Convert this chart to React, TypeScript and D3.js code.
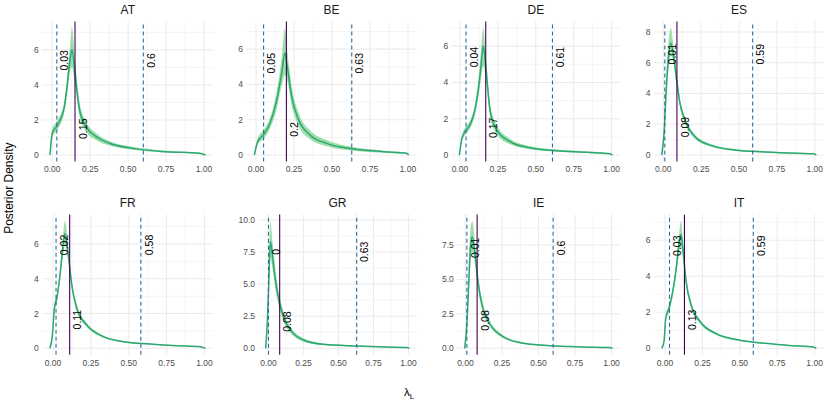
import React, { useEffect, useRef } from 'react';
import * as d3 from 'd3';

const countries = ['AT', 'BE', 'DE', 'ES', 'FR', 'GR', 'IE', 'IT'];

// posterior density of lambda_L: grid, median and 95% band
const AT_x = [-0.015, 0.0, 0.035, 0.08, 0.1, 0.117, 0.13, 0.152, 0.18, 0.223, 0.29, 0.377, 0.53, 0.75, 0.97, 1.01];
const AT_med = [0, 1.24, 1.71, 2.76, 4.1, 5.43, 6.0, 4.47, 2.57, 1.62, 1.05, 0.67, 0.38, 0.19, 0.1, 0];
const AT_hi = [0, 1.5, 2.0, 3.1, 4.6, 6.2, 7.25, 5.2, 3.0, 1.9, 1.25, 0.8, 0.47, 0.25, 0.13, 0];
const AT_lo = [0, 1.0, 1.45, 2.45, 3.6, 4.8, 5.0, 3.8, 2.2, 1.35, 0.85, 0.55, 0.3, 0.14, 0.07, 0];

const BE_x = [-0.011, 0.011, 0.048, 0.092, 0.136, 0.169, 0.19, 0.206, 0.235, 0.28, 0.355, 0.465, 0.64, 0.84, 0.99, 1.005];
const BE_med = [0, 0.76, 1.14, 1.8, 3.1, 4.64, 5.78, 5.0, 3.3, 2.0, 1.14, 0.66, 0.34, 0.19, 0.1, 0];
const BE_hi = [0, 0.95, 1.4, 2.1, 3.6, 5.5, 7.2, 5.9, 3.9, 2.4, 1.4, 0.85, 0.45, 0.25, 0.13, 0];
const BE_lo = [0, 0.6, 0.9, 1.5, 2.6, 3.9, 4.5, 4.2, 2.8, 1.65, 0.9, 0.5, 0.25, 0.13, 0.07, 0];

const DE_x = [-0.004, 0.011, 0.033, 0.066, 0.099, 0.121, 0.139, 0.154, 0.172, 0.198, 0.242, 0.33, 0.46, 0.64, 0.84, 0.99, 1.005];
const DE_med = [0, 0.83, 1.29, 1.66, 2.49, 3.6, 4.9, 6.0, 4.7, 2.49, 1.38, 0.74, 0.4, 0.24, 0.15, 0.07, 0];
const DE_hi = [0, 1.0, 1.5, 1.9, 2.8, 4.1, 5.8, 7.0, 5.4, 2.9, 1.65, 0.9, 0.5, 0.3, 0.19, 0.1, 0];
const DE_lo = [0, 0.7, 1.1, 1.45, 2.2, 3.2, 4.2, 4.9, 4.1, 2.15, 1.15, 0.6, 0.32, 0.18, 0.11, 0.05, 0];

const ES_x = [-0.011, 0.005, 0.018, 0.033, 0.049, 0.066, 0.088, 0.11, 0.143, 0.209, 0.319, 0.473, 0.67, 0.89, 0.993, 1.01];
const ES_med = [0, 1.41, 4.0, 6.2, 7.28, 6.6, 4.9, 3.37, 2.28, 1.19, 0.61, 0.33, 0.2, 0.11, 0.08, 0];
const ES_hi = [0, 1.7, 4.6, 7.2, 8.26, 7.2, 5.3, 3.65, 2.5, 1.33, 0.7, 0.39, 0.24, 0.14, 0.1, 0];
const ES_lo = [0, 1.15, 3.4, 5.4, 6.5, 6.0, 4.5, 3.1, 2.05, 1.06, 0.53, 0.28, 0.16, 0.08, 0.06, 0];

const FR_x = [-0.02, -0.004, 0.009, 0.025, 0.046, 0.062, 0.079, 0.101, 0.124, 0.157, 0.223, 0.311, 0.466, 0.64, 0.82, 0.97, 1.007];
const FR_med = [0, 0.76, 2.3, 2.88, 4.2, 5.55, 6.6, 5.37, 3.64, 2.3, 1.34, 0.76, 0.38, 0.25, 0.15, 0.09, 0];
const FR_hi = [0, 0.9, 2.55, 3.1, 4.5, 6.0, 7.32, 5.75, 3.9, 2.5, 1.45, 0.83, 0.42, 0.28, 0.17, 0.1, 0];
const FR_lo = [0, 0.62, 2.05, 2.65, 3.9, 5.1, 5.9, 5.0, 3.4, 2.1, 1.23, 0.69, 0.34, 0.22, 0.13, 0.08, 0];

const GR_x = [-0.02, -0.008, 0.004, 0.013, 0.03, 0.051, 0.077, 0.111, 0.166, 0.249, 0.39, 0.63, 0.844, 0.987, 1.006];
const GR_med = [0, 2.08, 5.74, 8.35, 7.05, 5.22, 3.65, 2.35, 1.3, 0.65, 0.31, 0.18, 0.1, 0.07, 0];
const GR_hi = [0, 2.5, 6.9, 9.92, 8.2, 6.0, 4.2, 2.75, 1.55, 0.8, 0.38, 0.22, 0.13, 0.09, 0];
const GR_lo = [0, 1.7, 4.7, 7.0, 6.1, 4.5, 3.15, 2.0, 1.1, 0.53, 0.25, 0.14, 0.07, 0.05, 0];

const IE_x = [-0.005, 0.011, 0.023, 0.034, 0.046, 0.064, 0.086, 0.114, 0.159, 0.239, 0.375, 0.58, 0.806, 0.988, 1.007];
const IE_med = [0, 1.93, 4.83, 7.26, 8.1, 7.0, 4.83, 3.14, 1.93, 0.97, 0.41, 0.19, 0.1, 0.06, 0];
const IE_hi = [0, 2.3, 5.8, 8.6, 9.24, 7.8, 5.4, 3.5, 2.15, 1.1, 0.48, 0.23, 0.12, 0.08, 0];
const IE_lo = [0, 1.6, 4.0, 6.1, 7.0, 6.2, 4.3, 2.8, 1.72, 0.85, 0.35, 0.16, 0.08, 0.04, 0];

const IT_x = [-0.022, -0.007, 0.005, 0.027, 0.056, 0.078, 0.096, 0.107, 0.123, 0.141, 0.174, 0.234, 0.335, 0.491, 0.67, 0.849, 0.993, 1.011];
const IT_med = [0, 0.37, 1.68, 2.23, 3.35, 4.65, 5.96, 6.33, 5.21, 3.72, 2.42, 1.49, 0.84, 0.46, 0.28, 0.15, 0.07, 0];
const IT_hi = [0, 0.45, 1.85, 2.45, 3.6, 5.0, 6.5, 7.07, 5.6, 4.0, 2.6, 1.6, 0.9, 0.5, 0.3, 0.17, 0.08, 0];
const IT_lo = [0, 0.3, 1.5, 2.0, 3.1, 4.3, 5.4, 5.6, 4.8, 3.45, 2.25, 1.38, 0.77, 0.42, 0.25, 0.13, 0.06, 0];

// interval bounds (dashed) and point estimate (solid)
const hpdLower = [0.03, 0.05, 0.04, 0.01, 0.02, 0, 0.01, 0.03];
const hpdUpper = [0.6, 0.63, 0.61, 0.59, 0.58, 0.63, 0.6, 0.59];
const pointEstimate = [0.15, 0.2, 0.17, 0.09, 0.11, 0.08, 0.08, 0.13];

const xTicks = [0, 0.25, 0.5, 0.75, 1];
const yTickSets = [
  [0, 2, 4, 6], [0, 2, 4, 6], [0, 2, 4, 6], [0, 2, 4, 6, 8],
  [0, 2, 4, 6], [0, 2.5, 5, 7.5, 10], [0, 2.5, 5, 7.5], [0, 2, 4, 6]
];
const yTickDecimals = [0, 0, 0, 0, 0, 1, 1, 0];

const curveX = [AT_x, BE_x, DE_x, ES_x, FR_x, GR_x, IE_x, IT_x];
const curveMed = [AT_med, BE_med, DE_med, ES_med, FR_med, GR_med, IE_med, IT_med];
const curveHi = [AT_hi, BE_hi, DE_hi, ES_hi, FR_hi, GR_hi, IE_hi, IT_hi];
const curveLo = [AT_lo, BE_lo, DE_lo, ES_lo, FR_lo, GR_lo, IE_lo, IT_lo];

// panel layout (free y axes make the left edges differ)
const W = 830;
const H = 403;
const panelLeft = [42.2, 246.6, 451.7, 653.9, 42.2, 258.5, 457.3, 654];
const panelRight = [213.3, 416.5, 620, 824, 213.3, 416.5, 620, 824];
const rowTop = [21.6, 214.6];
const rowBottom = [161.4, 354.7];

const FONT = "'Liberation Sans', Arial, Helvetica, sans-serif";
const LINE_GREEN = '#2aa872';
const BAND_GREEN = '#52c468';
const DASH_BLUE = '#2b6c9c';
const EST_PURPLE = '#440154';

const App = () => {
  const svgRef = useRef<SVGSVGElement>(null);

  useEffect(() => {
    const svg = d3.select(svgRef.current);
    svg.selectAll('*').remove();

    countries.forEach((name, i) => {
      const row = i < 4 ? 0 : 1;
      const xs = curveX[i];
      const med = curveMed[i];
      const hi = curveHi[i];
      const lo = curveLo[i];
      const pts = xs.map((x, k) => ({ x, med: med[k], hi: hi[k], lo: lo[k] }));

      // ggplot-style 5% expansion
      const [xmin, xmax] = d3.extent(xs) as [number, number];
      const xpad = 0.05 * (xmax - xmin);
      const ymax = d3.max(hi) as number;
      const x = d3.scaleLinear()
        .domain([xmin - xpad, xmax + xpad])
        .range([panelLeft[i], panelRight[i]]);
      const y = d3.scaleLinear()
        .domain([-0.05 * ymax, ymax * 1.05])
        .range([rowBottom[row], rowTop[row]]);

      const g = svg.append('g').attr('class', 'panel');

      // grid: minor then major
      const yt = yTickSets[i];
      const ystep = yt[1] - yt[0];
      const yMinor = [yt[0] - ystep / 2, ...yt.map(v => v + ystep / 2)]
        .filter(v => v >= y.domain()[0] && v <= y.domain()[1]);
      const xMinor = [-0.125, ...xTicks.map(v => v + 0.125)]
        .filter(v => v >= x.domain()[0] && v <= x.domain()[1]);

      const [x0, x1] = x.range();
      const [y0, y1] = y.range();

      g.selectAll('.ymin').data(yMinor).enter().append('line')
        .attr('x1', x0).attr('x2', x1)
        .attr('y1', d => y(d)).attr('y2', d => y(d))
        .style('stroke', '#ebebeb').style('stroke-width', 0.55);
      g.selectAll('.xmin').data(xMinor).enter().append('line')
        .attr('y1', y0).attr('y2', y1)
        .attr('x1', d => x(d)).attr('x2', d => x(d))
        .style('stroke', '#ebebeb').style('stroke-width', 0.55);
      g.selectAll('.ymaj').data(yt).enter().append('line')
        .attr('x1', x0).attr('x2', x1)
        .attr('y1', d => y(d)).attr('y2', d => y(d))
        .style('stroke', '#ebebeb').style('stroke-width', 1.07);
      g.selectAll('.xmaj').data(xTicks).enter().append('line')
        .attr('y1', y0).attr('y2', y1)
        .attr('x1', d => x(d)).attr('x2', d => x(d))
        .style('stroke', '#ebebeb').style('stroke-width', 1.07);

      // band + median
      const area = d3.area<any>()
        .x(d => x(d.x))
        .y0(d => y(d.lo))
        .y1(d => y(d.hi))
        .curve(d3.curveMonotoneX);
      const line = d3.line<any>()
        .x(d => x(d.x))
        .y(d => y(d.med))
        .curve(d3.curveMonotoneX);

      g.append('path')
        .attr('d', area(pts))
        .style('fill', BAND_GREEN)
        .style('fill-opacity', 0.55)
        .style('stroke', 'none');
      g.append('path')
        .attr('d', line(pts))
        .style('fill', 'none')
        .style('stroke', LINE_GREEN)
        .style('stroke-width', 1.5);

      // vertical reference lines
      [hpdLower[i], hpdUpper[i]].forEach(v => {
        g.append('line')
          .attr('x1', x(v)).attr('x2', x(v))
          .attr('y1', y0).attr('y2', y1)
          .style('stroke', DASH_BLUE)
          .style('stroke-width', 1.1)
          .style('stroke-dasharray', '4,3');
      });
      g.append('line')
        .attr('x1', x(pointEstimate[i])).attr('x2', x(pointEstimate[i]))
        .attr('y1', y0).attr('y2', y1)
        .style('stroke', EST_PURPLE)
        .style('stroke-width', 1.1);

      // value labels, rotated
      const peak = d3.max(med) as number;
      const labels = [
        { v: hpdLower[i], at: 0.9 * peak },
        { v: hpdUpper[i], at: 0.9 * peak },
        { v: pointEstimate[i], at: 0.25 * peak }
      ];
      labels.forEach(l => {
        g.append('text')
          .attr('transform', `translate(${x(l.v) + 8},${y(l.at)}) rotate(-90)`)
          .attr('text-anchor', 'middle')
          .attr('dy', '0.35em')
          .style('font-family', FONT)
          .style('font-size', '10.5px')
          .style('fill', '#000')
          .text(String(l.v));
      });

      // axes labels
      const fmt = d3.format(`.${yTickDecimals[i]}f`);
      g.selectAll('.ylab').data(yt).enter().append('text')
        .attr('x', x0 - 3.5)
        .attr('y', d => y(d))
        .attr('dy', '0.35em')
        .attr('text-anchor', 'end')
        .style('font-family', FONT)
        .style('font-size', '8.5px')
        .style('fill', '#4d4d4d')
        .text(d => fmt(d));
      g.selectAll('.xlab').data(xTicks).enter().append('text')
        .attr('x', d => x(d))
        .attr('y', y0 + 11)
        .attr('text-anchor', 'middle')
        .style('font-family', FONT)
        .style('font-size', '8.5px')
        .style('fill', '#4d4d4d')
        .text(d => d3.format('.2f')(d));

      // strip title
      g.append('text')
        .attr('x', (x0 + x1) / 2)
        .attr('y', y1 - 7.5)
        .attr('text-anchor', 'middle')
        .style('font-family', FONT)
        .style('font-size', '12px')
        .style('fill', '#1a1a1a')
        .text(name);
    });

    // axis titles
    svg.append('text')
      .attr('transform', `translate(9,${(rowTop[0] + rowBottom[1]) / 2}) rotate(-90)`)
      .attr('text-anchor', 'middle')
      .attr('dy', '0.35em')
      .style('font-family', FONT)
      .style('font-size', '12px')
      .style('fill', '#000')
      .text('Posterior Density');

    const xt = svg.append('text')
      .attr('x', 409)
      .attr('y', 396)
      .attr('text-anchor', 'middle')
      .style('font-family', FONT)
      .style('font-size', '11.5px')
      .style('fill', '#000');
    xt.append('tspan').text('λ');
    xt.append('tspan')
      .attr('dy', 3)
      .style('font-size', '8px')
      .text('L');
  }, []);

  return (
    <div>
      <style>{`body { margin: 0; background: #fff; }`}</style>
      <svg ref={svgRef} width={W} height={H} style={{ display: 'block' }} />
    </div>
  );
};

export default App;
